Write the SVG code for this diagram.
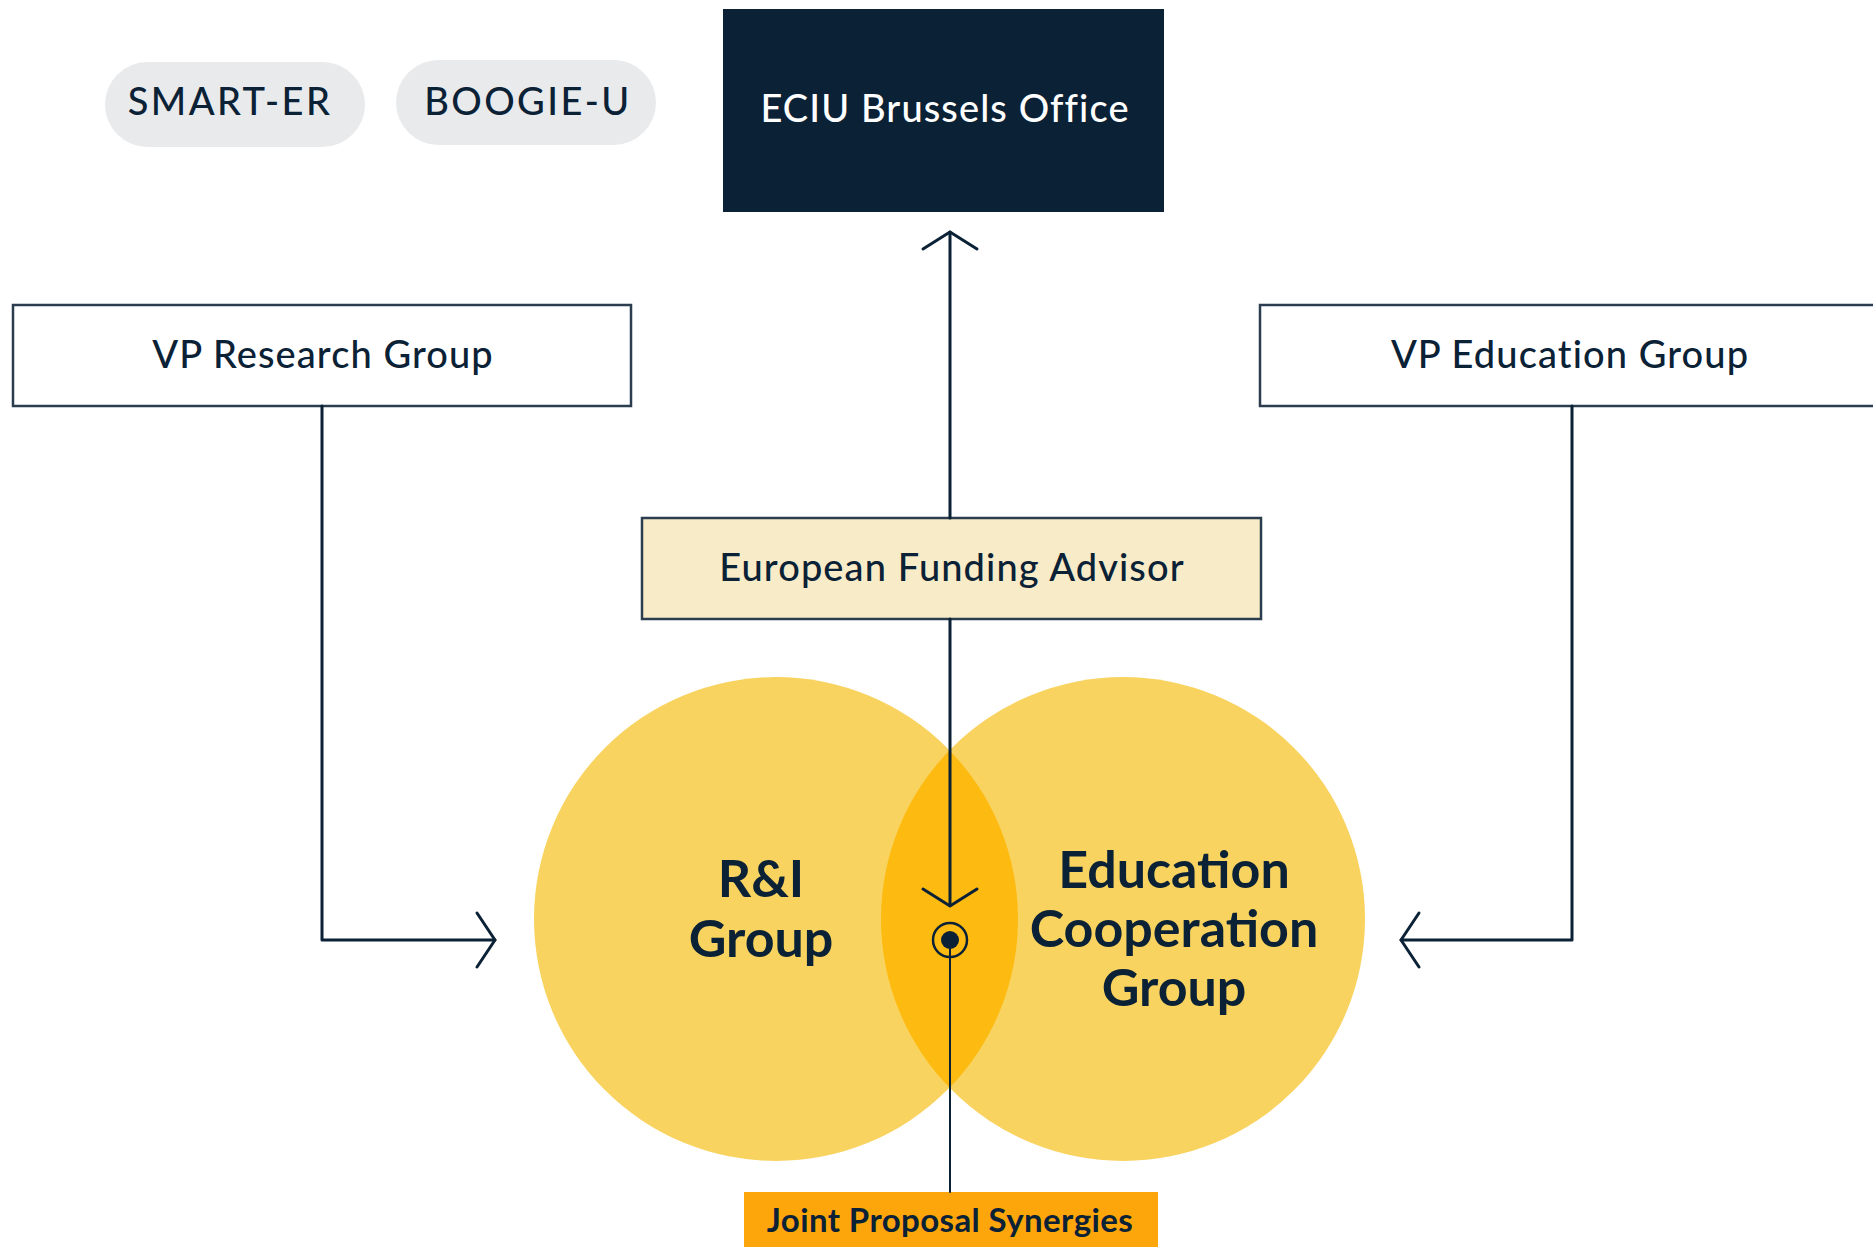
<svg xmlns="http://www.w3.org/2000/svg" width="1873" height="1247" viewBox="0 0 1873 1247">
<defs>
<style>
.t{font-family:Lato,"Open Sans","Liberation Sans",sans-serif;fill:#0B2135;text-anchor:middle}
.reg{font-size:38px;font-weight:500;letter-spacing:1.1px}
.pill{font-size:38px;font-weight:500;letter-spacing:2.4px}
.big{font-size:52px;font-weight:700}
.box{fill:#fff;stroke:#2B3D4F;stroke-width:2.5}
.con{fill:none;stroke:#0B2135;stroke-width:3;stroke-linecap:round;stroke-linejoin:round}
</style>
<clipPath id="clipL"><circle cx="776" cy="919" r="242"/></clipPath>
</defs>
<rect width="1873" height="1247" fill="#fff"/>

<g id="smart-er">
<rect x="105" y="62" width="260" height="85" rx="42.5" fill="#E9EAEC"/>
<text class="t pill" x="230" y="115">SMART-ER</text>
</g>
<g id="boogie-u">
<rect x="396" y="60" width="260" height="85" rx="42.5" fill="#E9EAEC"/>
<text class="t pill" x="528" y="115">BOOGIE-U</text>
</g>
<g id="eciu-brussels-office">
<rect x="723" y="9" width="441" height="203" fill="#0B2135"/>
<text class="t reg" x="945" y="122" style="fill:#fff">ECIU Brussels Office</text>
</g>
<g id="vp-research-group">
<rect class="box" x="13" y="305" width="618" height="101"/>
<text class="t reg" x="323" y="368">VP Research Group</text>
</g>
<g id="vp-education-group">
<rect class="box" x="1260" y="305" width="640" height="101"/>
<text class="t reg" x="1570" y="368">VP Education Group</text>
</g>
<g id="european-funding-advisor">
<rect x="642" y="518" width="619" height="101" fill="#F8EBC8" stroke="#2B3D4F" stroke-width="2.5"/>
<text class="t reg" x="952" y="581">European Funding Advisor</text>
</g>
<g id="ri-group">
<circle cx="776" cy="919" r="242" fill="#F9D35F"/>
</g>
<g id="education-cooperation-group">
<circle cx="1123" cy="919" r="242" fill="#F9D35F"/>
<circle cx="1123" cy="919" r="242" fill="#FDBA10" clip-path="url(#clipL)"/>
</g>
<g id="circle-labels">
<text class="t big" x="761" y="897">R&amp;I</text>
<text class="t big" x="761" y="957">Group</text>
<text class="t big" x="1174" y="888">Education</text>
<text class="t big" x="1174" y="947">Cooperation</text>
<text class="t big" x="1174" y="1006">Group</text>
</g>
<g id="joint-proposal-synergies">
<rect x="744" y="1192" width="414" height="60" fill="#FCA60C"/>
<text class="t" x="950" y="1232" style="font-size:33px;font-weight:700;letter-spacing:0.4px">Joint Proposal Synergies</text>
</g>

<g id="connectors">
<path class="con" d="M950 518 V232"/>
<path class="con" d="M923 249 L950 232 L977 249"/>
<path class="con" d="M950 619 V905"/>
<path class="con" d="M923 889 L950 906 L977 889"/>
<path class="con" d="M322 406 V940 H495"/>
<path class="con" d="M477 913 L495 940 L477 967"/>
<path class="con" d="M1572 406 V940 H1401"/>
<path class="con" d="M1419 913 L1401 940 L1419 967"/>
<circle cx="950" cy="940" r="17" fill="none" stroke="#0B2135" stroke-width="2.5"/>
<circle cx="950" cy="940" r="9" fill="#0B2135"/>
<path class="con" d="M950 940 V1192" style="stroke-width:2"/>
</g>
</svg>
